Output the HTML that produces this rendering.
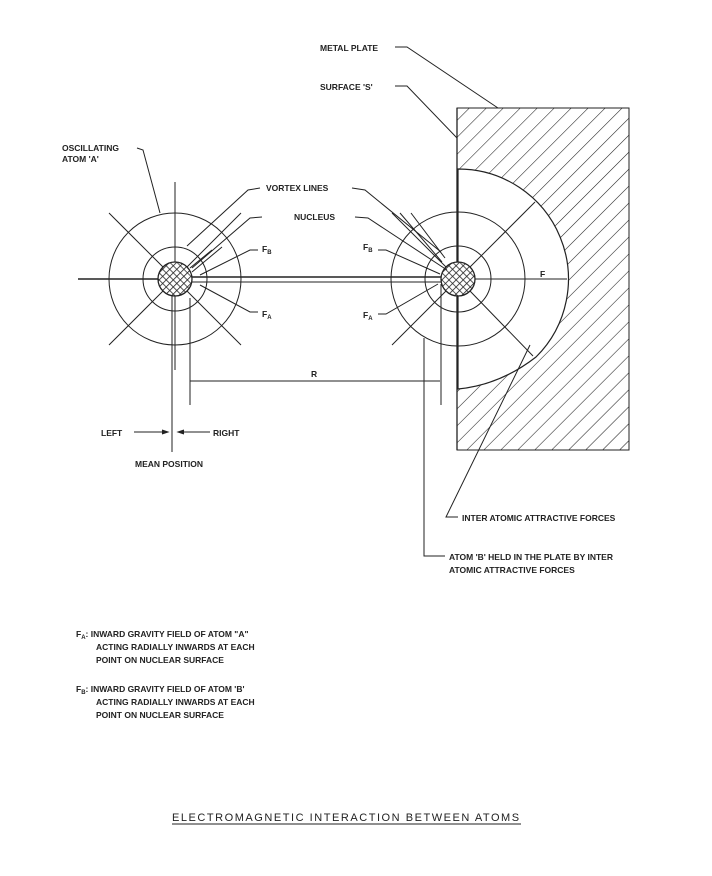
<!DOCTYPE html>
<html><head><meta charset="utf-8"><style>
html,body{margin:0;padding:0;background:#fff}
svg{display:block}
text{font-family:"Liberation Sans",sans-serif;font-weight:bold;fill:#222;font-size:8.5px}
</style></head><body>
<svg width="712" height="876" viewBox="0 0 712 876" xmlns="http://www.w3.org/2000/svg">
<defs>
<pattern id="h" patternUnits="userSpaceOnUse" width="12" height="12" patternTransform="rotate(45)">
<rect width="12" height="12" fill="#fff"/><line x1="0" y1="0" x2="0" y2="12" stroke="#222" stroke-width="1.1"/>
</pattern>
<pattern id="x" patternUnits="userSpaceOnUse" width="5" height="5" patternTransform="rotate(45)">
<rect width="5" height="5" fill="#fff"/><path d="M0 0V5M0 0H5" stroke="#222" stroke-width="1.6"/>
</pattern>
</defs>
<g stroke="#222" fill="none" stroke-width="1">
<rect x="457" y="108" width="172" height="342" fill="url(#h)"/>
<path d="M458,169 A110,110 0 0 1 536,357 Q500,385 458,389 Z" fill="#fff" stroke-width="1.2"/>
<line x1="457" y1="108" x2="457" y2="450" stroke-width="1.3"/>
<circle cx="175" cy="279" r="66"/>
<circle cx="175" cy="279" r="32"/>
<circle cx="175" cy="279" r="17" fill="url(#x)" stroke-width="1.3"/>
<line x1="78" y1="279" x2="158" y2="279" stroke-width="1.6"/>
<line x1="192" y1="277" x2="441" y2="277" stroke-width="1.6"/>
<line x1="192" y1="282" x2="441" y2="282" stroke-width="1"/>
<line x1="175" y1="182" x2="175" y2="262"/>
<line x1="175" y1="296" x2="175" y2="370"/>
<line x1="109" y1="213" x2="163" y2="267"/>
<line x1="241" y1="213" x2="187" y2="267"/>
<line x1="109" y1="345" x2="163" y2="291"/>
<line x1="241" y1="345" x2="187" y2="291"/>
<circle cx="458" cy="279" r="67"/>
<circle cx="458" cy="279" r="33"/>
<circle cx="458" cy="279" r="17" fill="url(#x)" stroke-width="1.3"/>
<line x1="458" y1="169" x2="458" y2="262"/>
<line x1="458" y1="296" x2="458" y2="389"/>
<line x1="475" y1="279" x2="567" y2="279"/>
<line x1="392" y1="213" x2="446" y2="267"/>
<line x1="392" y1="345" x2="446" y2="291"/>
<line x1="470" y1="267" x2="535" y2="202"/>
<line x1="470" y1="291" x2="533" y2="356"/>
<line x1="400" y1="213" x2="442" y2="262"/>
<line x1="411" y1="213" x2="445" y2="258"/>
<line x1="212" y1="250" x2="190" y2="268"/>
<line x1="222" y1="247" x2="192" y2="272"/>
<line x1="190" y1="381" x2="440" y2="381"/>
<line x1="190" y1="298" x2="190" y2="405"/>
<line x1="441" y1="284" x2="441" y2="405"/>
<line x1="172" y1="296" x2="172" y2="452"/>
<line x1="134" y1="432" x2="168" y2="432"/><path d="M162,430 L168,432 L162,434" fill="#222"/>
<line x1="178" y1="432" x2="210" y2="432"/><path d="M184,430 L178,432 L184,434" fill="#222"/>
<polyline points="395,47 407,47 498,108"/>
<polyline points="395,86 407,86 457,138"/>
<polyline points="137,148 143,150 160,213"/>
<polyline points="260,188 248,190 187,246"/>
<polyline points="352,188 365,190 441,252"/>
<polyline points="262,217 250,218 192,268"/>
<polyline points="355,217 368,218 447,270"/>
<polyline points="258,250 250,250 200,275"/>
<polyline points="258,312 250,312 200,285"/>
<polyline points="378,250 386,250 440,274"/>
<polyline points="378,314 386,314 438,284"/>
<polyline points="424,338 424,556 445,556"/>
<polyline points="530,345 446,517 458,517"/>
<line x1="172" y1="824" x2="521" y2="824"/>
</g>
<text x="320" y="51">METAL PLATE</text>
<text x="320" y="90">SURFACE 'S'</text>
<text x="62" y="151">OSCILLATING</text>
<text x="62" y="162">ATOM 'A'</text>
<text x="266" y="191">VORTEX LINES</text>
<text x="294" y="220">NUCLEUS</text>
<text x="262" y="252">F<tspan font-size="6" dy="2">B</tspan></text>
<text x="262" y="317">F<tspan font-size="6" dy="2">A</tspan></text>
<text x="363" y="250">F<tspan font-size="6" dy="2">B</tspan></text>
<text x="363" y="318">F<tspan font-size="6" dy="2">A</tspan></text>
<text x="540" y="277">F</text>
<text x="311" y="377">R</text>
<text x="101" y="436">LEFT</text>
<text x="213" y="436">RIGHT</text>
<text x="135" y="467">MEAN POSITION</text>
<text x="462" y="521">INTER ATOMIC ATTRACTIVE FORCES</text>
<text x="449" y="560">ATOM 'B' HELD IN THE PLATE BY INTER</text>
<text x="449" y="573">ATOMIC ATTRACTIVE FORCES</text>
<text x="76" y="637">F<tspan font-size="6" dy="2">A</tspan><tspan dy="-2">: INWARD GRAVITY FIELD OF ATOM "A"</tspan></text>
<text x="96" y="650">ACTING RADIALLY INWARDS AT EACH</text>
<text x="96" y="663">POINT ON NUCLEAR SURFACE</text>
<text x="76" y="692">F<tspan font-size="6" dy="2">B</tspan><tspan dy="-2">: INWARD GRAVITY FIELD OF ATOM 'B'</tspan></text>
<text x="96" y="705">ACTING RADIALLY INWARDS AT EACH</text>
<text x="96" y="718">POINT ON NUCLEAR SURFACE</text>
<text x="172" y="821" style="font-weight:normal;font-size:11px;letter-spacing:0.9px" textLength="348">ELECTROMAGNETIC INTERACTION BETWEEN ATOMS</text>
</svg>
</body></html>
